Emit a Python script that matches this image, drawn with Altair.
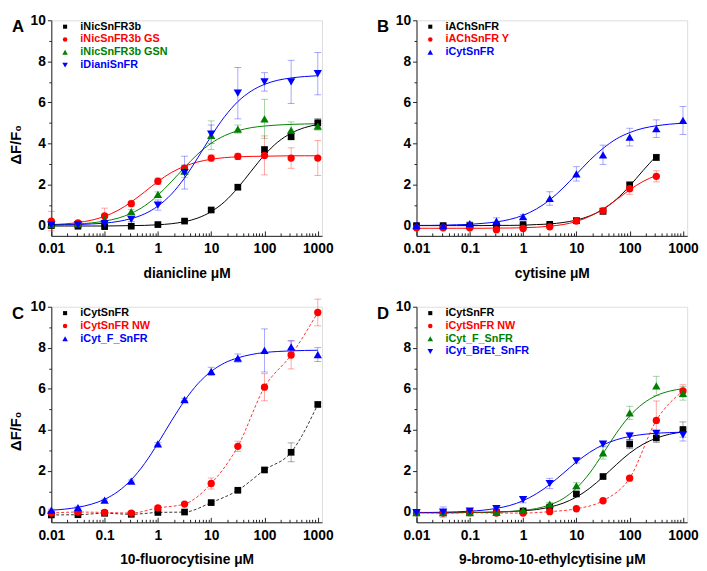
import altair as alt
import pandas as pd

FONT = "Liberation Sans"
AX = "#222222"
W, H = 275, 219

# concentrations (uM) of the measured points and of the fitted-curve samples
X = [0.01, 0.03162, 0.1, 0.3162, 1, 3.162, 10, 31.62, 100, 316.2, 1000]
XC = [0.01, 0.01778, 0.03162, 0.05623, 0.1, 0.1778, 0.3162, 0.5623, 1, 1.778,
      3.162, 5.623, 10, 17.78, 31.62, 56.23, 100, 177.8, 316.2, 562.3, 1000]

X_MAJOR = [0.01, 0.1, 1, 10, 100, 1000]
X_MINOR = [0.02, 0.03, 0.04, 0.05, 0.06, 0.07, 0.08, 0.09,
           0.2, 0.3, 0.4, 0.5, 0.6, 0.7, 0.8, 0.9,
           2, 3, 4, 5, 6, 7, 8, 9,
           20, 30, 40, 50, 60, 70, 80, 90,
           200, 300, 400, 500, 600, 700, 800, 900]
Y_MAJOR = [0, 2, 4, 6, 8, 10]
Y_MINOR = [1, 3, 5, 7, 9]

# ---------------- Panel A : dianicline ----------------
A_black = [0.0, -0.03, -0.05, -0.03, 0.05, 0.22, 0.76, 1.87, 3.70, 4.33, 5.01]
A_black_err = [0.05, 0.05, 0.05, 0.05, 0.05, 0.06, 0.08, 0.1, 0.15, 0.15, 0.2]
A_black_fit = [-0.02, -0.02, -0.02, -0.02, -0.02, -0.01, 0.0, 0.01, 0.04, 0.09, 0.19,
               0.37, 0.68, 1.16, 1.84, 2.65, 3.44, 4.07, 4.5, 4.77, 4.92]
A_red = [0.22, 0.13, 0.47, 1.07, 2.16, 2.80, 3.29, 3.37, 3.42, 3.29, 3.29]
A_red_err = [0.47, 0.08, 0.38, 0.12, 0.15, 0.12, 0.15, 0.15, 0.95, 0.5, 0.85]
A_red_fit = [0.05, 0.08, 0.15, 0.26, 0.45, 0.74, 1.15, 1.64, 2.15, 2.58, 2.89,
             3.1, 3.23, 3.31, 3.35, 3.37, 3.38, 3.39, 3.4, 3.4, 3.4]
A_green = [0.05, 0.08, 0.3, 0.68, 1.52, 2.65, 4.4, 4.70, 5.2, 4.65, 4.85]
A_green_err = [0.05, 0.05, 0.1, 0.1, 0.12, 0.3, 0.7, 0.2, 0.95, 0.4, 0.2]
A_green_fit = [0.04, 0.06, 0.08, 0.13, 0.22, 0.36, 0.6, 0.96, 1.48, 2.13, 2.83,
               3.49, 4.01, 4.38, 4.62, 4.77, 4.85, 4.9, 4.93, 4.95, 4.96]
A_blue = [0.02, 0.03, 0.1, 0.3, 1.0, 2.58, 4.45, 6.45, 7.0, 7.0, 7.4]
A_blue_err = [0.05, 0.05, 0.05, 0.1, 0.25, 0.8, 0.45, 1.25, 0.45, 1.05, 1.03]
A_blue_fit = [0.03, 0.04, 0.05, 0.08, 0.12, 0.2, 0.34, 0.57, 0.95, 1.52, 2.32,
              3.31, 4.36, 5.3, 6.04, 6.55, 6.88, 7.08, 7.19, 7.26, 7.3]

# ---------------- Panel B : cytisine ----------------
B_black = [0.0, 0.0, 0.0, 0.0, 0.05, 0.06, 0.24, 0.70, 1.98, 3.32]
B_black_err = [0.05, 0.05, 0.05, 0.05, 0.05, 0.05, 0.12, 0.15, 0.15, 0.15]
B_black_fit = [0.0, 0.0, 0.0, 0.0, 0.0, 0.0, 0.01, 0.01, 0.02, 0.05, 0.08,
               0.15, 0.27, 0.47, 0.79, 1.28, 1.93, 2.68, 3.39]
B_red = [-0.11, -0.11, -0.11, -0.2, -0.14, -0.06, 0.22, 0.72, 1.8, 2.4]
B_red_err = [0.05, 0.05, 0.05, 0.08, 0.05, 0.06, 0.1, 0.12, 0.28, 0.27]
B_red_fit = [-0.13, -0.13, -0.13, -0.13, -0.13, -0.13, -0.12, -0.12, -0.1, -0.08,
             -0.03, 0.05, 0.2, 0.45, 0.81, 1.26, 1.74, 2.15, 2.44]
B_blue = [0.0, 0.0, 0.1, 0.22, 0.44, 1.32, 2.52, 3.45, 4.31, 4.72, 5.12]
B_blue_err = [0.03, 0.03, 0.08, 0.16, 0.1, 0.33, 0.35, 0.47, 0.43, 0.43, 0.68]
B_blue_fit = [0.01, 0.01, 0.02, 0.04, 0.06, 0.11, 0.18, 0.3, 0.5, 0.81, 1.25,
              1.83, 2.5, 3.18, 3.76, 4.22, 4.53, 4.74, 4.86, 4.94, 4.99]

# ---------------- Panel C : 10-fluorocytisine ----------------
C_black = [-0.14, -0.13, -0.06, -0.11, -0.02, 0.0, 0.46, 1.06, 2.05, 2.91, 5.24]
C_black_err = [0.03, 0.03, 0.03, 0.03, 0.03, 0.03, 0.06, 0.06, 0.08, 0.46, 0.1]
C_red = [-0.05, 0.0, -0.02, -0.05, 0.2, 0.39, 1.39, 3.2, 6.08, 7.65, 9.72]
C_red_err = [0.05, 0.05, 0.05, 0.05, 0.08, 0.06, 0.27, 0.25, 0.66, 0.68, 0.65]
C_blue = [0.09, 0.22, 0.58, 1.51, 3.32, 5.48, 6.85, 7.5, 7.87, 8.05, 7.67]
C_blue_err = [0.05, 0.06, 0.05, 0.05, 0.06, 0.06, 0.2, 0.2, 1.05, 0.3, 0.34]
C_blue_fit = [0.09, 0.14, 0.23, 0.38, 0.62, 1.0, 1.57, 2.36, 3.35, 4.42, 5.42,
              6.25, 6.85, 7.26, 7.51, 7.67, 7.77, 7.82, 7.85, 7.87, 7.88]

# ---------------- Panel D : 9-bromo-10-ethylcytisine ----------------
D_black = [-0.03, -0.03, -0.03, -0.03, 0.05, 0.24, 0.88, 1.73, 3.31, 3.61, 4.02]
D_black_err = [0.03, 0.03, 0.03, 0.03, 0.03, 0.05, 0.06, 0.08, 0.22, 0.22, 0.37]
D_black_fit = [-0.03, -0.03, -0.03, -0.03, -0.02, -0.02, 0.0, 0.02, 0.06, 0.12, 0.24,
               0.43, 0.73, 1.16, 1.71, 2.31, 2.87, 3.3, 3.6, 3.79, 3.9]
D_red = [-0.03, -0.05, -0.03, -0.05, -0.05, 0.02, 0.16, 0.55, 1.65, 4.46, 5.9]
D_red_err = [0.03, 0.03, 0.03, 0.03, 0.03, 0.03, 0.04, 0.05, 0.08, 0.95, 0.3]
D_green = [-0.03, -0.03, -0.03, -0.02, 0.09, 0.39, 1.28, 2.88, 4.83, 6.14, 5.78]
D_green_err = [0.03, 0.03, 0.03, 0.03, 0.04, 0.08, 0.15, 0.3, 0.32, 0.47, 0.33]
D_green_fit = [-0.03, -0.03, -0.03, -0.03, -0.02, -0.01, 0.0, 0.03, 0.08, 0.17, 0.35,
               0.65, 1.16, 1.9, 2.85, 3.84, 4.68, 5.28, 5.67, 5.89, 6.01]
D_blue = [-0.03, 0.0, 0.05, 0.17, 0.6, 1.39, 2.49, 3.31, 3.7, 3.83, 3.76]
D_blue_err = [0.03, 0.25, 0.05, 0.05, 0.15, 0.25, 0.1, 0.1, 0.18, 0.15, 0.3]
D_blue_fit = [-0.02, -0.02, -0.01, 0.01, 0.04, 0.09, 0.18, 0.32, 0.55, 0.89, 1.34,
              1.88, 2.43, 2.91, 3.27, 3.52, 3.68, 3.78, 3.84, 3.87, 3.89]

BLACK, RED, GREEN, BLUE = "#000000", "#ff0000", "#008000", "#0000ff"
SIZES = {"square": 46, "circle": 55, "triangle-up": 72, "triangle-down": 72}
LEG_SIZES = {"square": 17, "circle": 21, "triangle-up": 32, "triangle-down": 32}

# (letter, x title, y title?, [(name, colour, shape, values, errors, curve values, curve style)])
PANELS = [
    ("A", "dianicline \u03bcM", True, [
        ("iNicSnFR3b", BLACK, "square", A_black, A_black_err, A_black_fit, "solid"),
        ("iNicSnFR3b GS", RED, "circle", A_red, A_red_err, A_red_fit, "solid"),
        ("iNicSnFR3b GSN", GREEN, "triangle-up", A_green, A_green_err, A_green_fit, "solid"),
        ("iDianiSnFR", BLUE, "triangle-down", A_blue, A_blue_err, A_blue_fit, "solid"),
    ]),
    ("B", "cytisine \u03bcM", False, [
        ("iAChSnFR", BLACK, "square", B_black, B_black_err, B_black_fit, "solid"),
        ("iAChSnFR Y", RED, "circle", B_red, B_red_err, B_red_fit, "solid"),
        ("iCytSnFR", BLUE, "triangle-up", B_blue, B_blue_err, B_blue_fit, "solid"),
    ]),
    ("C", "10-fluorocytisine \u03bcM", True, [
        ("iCytSnFR", BLACK, "square", C_black, C_black_err, C_black, "dash"),
        ("iCytSnFR NW", RED, "circle", C_red, C_red_err, C_red, "dash"),
        ("iCyt_F_SnFR", BLUE, "triangle-up", C_blue, C_blue_err, C_blue_fit, "solid"),
    ]),
    ("D", "9-bromo-10-ethylcytisine \u03bcM", False, [
        ("iCytSnFR", BLACK, "square", D_black, D_black_err, D_black_fit, "solid"),
        ("iCytSnFR NW", RED, "circle", D_red, D_red_err, D_red, "dash"),
        ("iCyt_F_SnFR", GREEN, "triangle-up", D_green, D_green_err, D_green_fit, "solid"),
        ("iCyt_BrEt_SnFR", BLUE, "triangle-down", D_blue, D_blue_err, D_blue_fit, "solid"),
    ]),
]

XSCALE = alt.Scale(type="log", domain=[0.01, 1200], nice=False)
YSCALE = alt.Scale(domain=[-0.5, 10], nice=False, zero=False)


def x_main(title):
    return alt.Axis(values=X_MAJOR, orient="bottom", ticks=False, domain=True,
                    domainColor=AX, domainWidth=1, grid=False,
                    labelExpr="format(datum.value, '~g')", labelFlush=False,
                    labelOverlap=False, labelBound=False, labelFont=FONT,
                    labelFontSize=14, labelFontWeight="bold", labelColor="black",
                    labelPadding=6, title=title, titleFont=FONT, titleFontSize=14,
                    titleFontWeight="bold", titleColor="black", titlePadding=11)


def x_ticks(values, size):
    return alt.Axis(values=values, orient="bottom", offset=-size, tickSize=size,
                    tickColor=AX, tickWidth=1, domain=False, labels=False,
                    grid=False, title=None)


def y_main(with_title):
    kw = dict(values=Y_MAJOR, orient="left", tickSize=4, tickColor=AX, tickWidth=1,
              domainColor=AX, domainWidth=1, grid=False, labelFont=FONT,
              labelFontSize=14, labelFontWeight="bold", labelColor="black",
              labelPadding=2, labelFlush=False, labelOverlap=False)
    if with_title:
        kw.update(title="\u0394F/F\u2080", titleFont=FONT, titleFontSize=15,
                  titleFontWeight="bold", titleColor="black", titleAngle=270,
                  titleBaseline="bottom", titleX=-28, titleY=126)
    else:
        kw.update(title=None)
    return alt.Axis(**kw)


def y_ticks():
    return alt.Axis(values=Y_MINOR, orient="left", tickSize=2.5, tickColor=AX,
                    tickWidth=1, domain=False, labels=False, grid=False, title=None)


def panel(letter, xtitle, ytitle, series):
    names = [s[0] for s in series]
    colors = [s[1] for s in series]
    shapes = [s[2] for s in series]
    prow, crow, drow = [], [], []
    for name, col, shp, ys, es, fit, style in series:
        for xv, yv, ev in zip(X, ys, es):
            prow.append(dict(x=xv, y=yv, lo=yv - ev, hi=yv + ev, s=name, sz=SIZES[shp]))
        target = crow if style == "solid" else drow
        xs = XC if style == "solid" else X
        for xv, yv in zip(xs, fit):
            target.append(dict(x=xv, y=yv, s=name))
    pts = pd.DataFrame(prow)
    crv = pd.DataFrame(crow)
    dsh = pd.DataFrame(drow)

    cscale = alt.Scale(domain=names, range=colors)
    sscale = alt.Scale(domain=names, range=shapes)

    err = alt.Chart(pts).mark_rule(strokeWidth=1, opacity=0.35).encode(
        x=alt.X("x:Q", scale=XSCALE, axis=x_ticks(X_MAJOR, 5)),
        y=alt.Y("lo:Q", scale=YSCALE, axis=y_ticks()),
        y2="hi:Q",
        stroke=alt.Stroke("s:N", scale=cscale, legend=None),
    )
    caps = alt.Chart(pts).transform_fold(["lo", "hi"], as_=["k", "v"]).mark_tick(
        orient="horizontal", size=7, thickness=1, opacity=0.35).encode(
        x=alt.X("x:Q", scale=XSCALE, axis=x_ticks(X_MINOR, 3)),
        y=alt.Y("v:Q", scale=YSCALE, axis=None),
        fill=alt.Fill("s:N", scale=cscale, legend=None),
    )
    layers = [err, caps]
    if len(crv):
        layers.append(alt.Chart(crv).mark_line(strokeWidth=1, interpolate="monotone").encode(
            x=alt.X("x:Q", scale=XSCALE, axis=None),
            y=alt.Y("y:Q", scale=YSCALE, axis=None),
            stroke=alt.Stroke("s:N", scale=cscale, legend=None), detail="s:N"))
    if len(dsh):
        layers.append(alt.Chart(dsh).mark_line(strokeWidth=1, strokeDash=[3, 2], opacity=0.8,
                                               interpolate="monotone").encode(
            x=alt.X("x:Q", scale=XSCALE, axis=None),
            y=alt.Y("y:Q", scale=YSCALE, axis=None),
            stroke=alt.Stroke("s:N", scale=cscale, legend=None), detail="s:N"))
    layers.append(alt.Chart(pts).mark_point(filled=True, opacity=1, strokeWidth=0).encode(
        x=alt.X("x:Q", scale=XSCALE, axis=x_main(xtitle)),
        y=alt.Y("y:Q", scale=YSCALE, axis=y_main(ytitle)),
        color=alt.Color("s:N", scale=cscale, legend=None),
        shape=alt.Shape("s:N", scale=sscale, legend=None),
        size=alt.Size("sz:Q", scale=None, legend=None),
    ))
    # in-plot legend (symbol + coloured label per series)
    for i, (name, col, shp) in enumerate(zip(names, colors, shapes)):
        row = pd.DataFrame({"t": [name]})
        ypix = 6.5 + 13 * i
        layers.append(alt.Chart(row).mark_point(
            filled=True, shape=shp, size=LEG_SIZES[shp], color=col, opacity=1, strokeWidth=0
        ).encode(x=alt.value(14), y=alt.value(ypix)))
        layers.append(alt.Chart(row).mark_text(
            align="left", baseline="middle", font=FONT, fontSize=11, fontWeight="bold",
            color=col).encode(text="t:N", x=alt.value(29.5), y=alt.value(ypix)))
    layers.append(alt.Chart(pd.DataFrame({"t": [letter]})).mark_text(
        align="left", baseline="top", font=FONT, fontSize=17, fontWeight="bold",
        color="black").encode(text="t:N", x=alt.value(-40), y=alt.value(-1)))
    return alt.layer(*layers).resolve_axis(x="independent", y="independent").properties(
        width=W, height=H)


charts = [panel(*p) for p in PANELS]
chart = alt.concat(*charts, columns=2, spacing={"row": 72, "column": 96},
                   bounds="flush", padding=0).resolve_scale(
    x="independent", y="independent", color="independent", shape="independent",
    stroke="independent", fill="independent"
).configure_view(strokeWidth=0).configure(background="white")

chart.save("out.html", embed_options={"renderer": "svg", "actions": False})
